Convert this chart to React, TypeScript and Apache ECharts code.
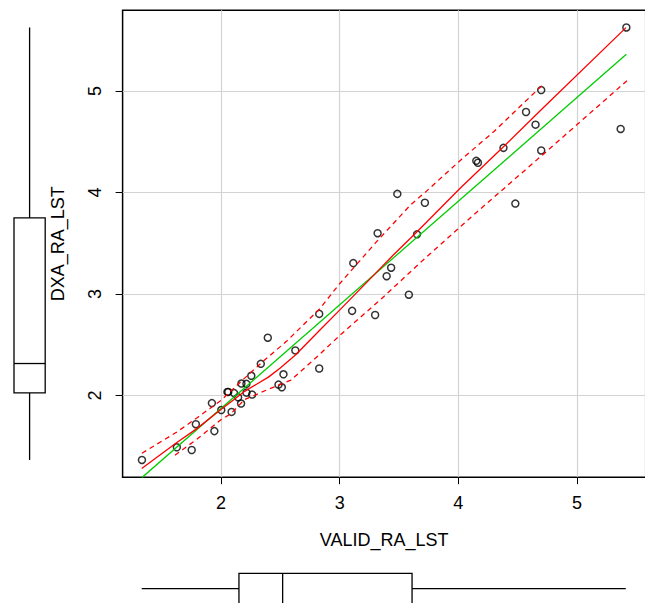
import React, { useEffect, useRef } from "react";
import * as echarts from "echarts";

const X_TICKS = [2, 3, 4, 5];
const Y_TICKS = [2, 3, 4, 5];
const X_LIMITS = [1.172, 5.578];
const Y_LIMITS = [1.194, 5.795];

const VALID_RA_LST = [1.335, 1.629, 1.754, 1.789, 1.924, 1.945, 2.003, 2.055, 2.062, 2.09, 2.111, 2.145, 2.17, 2.173, 2.215, 2.215, 2.256, 2.263, 2.336, 2.395, 2.485, 2.513, 2.527, 2.627, 2.828, 2.828, 3.105, 3.115, 3.299, 3.32, 3.396, 3.434, 3.486, 3.583, 3.652, 3.718, 4.151, 4.165, 4.38, 4.48, 4.57, 4.65, 4.698, 4.698, 5.367, 5.415];
const DXA_RA_LST = [1.364, 1.489, 1.462, 1.716, 1.924, 1.648, 1.856, 2.034, 2.034, 1.837, 2.023, 1.981, 1.92, 2.117, 2.114, 2.027, 2.193, 2.008, 2.311, 2.568, 2.106, 2.08, 2.208, 2.443, 2.803, 2.265, 2.833, 3.303, 2.792, 3.598, 3.174, 3.258, 3.985, 2.992, 3.587, 3.898, 4.311, 4.292, 4.439, 3.89, 4.792, 4.667, 5.008, 4.413, 4.625, 5.625];

const REG_X = [1.335, 5.415];
const REG_Y = [1.19, 5.36];

const SMOOTH_X = [1.333, 1.629, 1.8, 2.0, 2.1, 2.2, 2.3, 2.4, 2.5, 2.63, 2.83, 3.0, 3.15, 3.3, 3.45, 3.65, 4.015, 4.38, 4.7, 5.412];
const SMOOTH_Y = [1.28, 1.535, 1.675, 1.86, 1.95, 2.04, 2.11, 2.18, 2.27, 2.4, 2.64, 2.84, 3.02, 3.2, 3.38, 3.61, 4.04, 4.45, 4.816, 5.623];

const UPPER_X = [1.335, 1.63, 1.8, 2.0, 2.2, 2.35, 2.55, 2.83, 3.0, 3.3, 3.6, 3.72, 4.03, 4.3, 4.72];
const UPPER_Y = [1.43, 1.64, 1.78, 1.95, 2.17, 2.33, 2.53, 2.85, 3.1, 3.5, 3.88, 4.0, 4.33, 4.6, 5.07];

const LOWER_X = [1.613, 1.8, 2.0, 2.085, 2.2, 2.4, 2.59, 2.8, 3.0, 3.35, 3.7, 4.14, 4.7, 5.42];
const LOWER_Y = [1.41, 1.57, 1.76, 1.82, 1.96, 2.06, 2.15, 2.37, 2.59, 2.95, 3.33, 3.79, 4.36, 5.1];

// [min, Q1, median, Q3, max]
const BOX_DXA = [1.364, 2.024, 2.314, 3.748, 5.625];
const BOX_VALID = [1.333, 2.152, 2.52, 3.61, 5.41];

const FONT = "'Liberation Sans', Arial, Helvetica, sans-serif";

const zip = (xs: number[], ys: number[]) => xs.map((x, i) => [x, ys[i]]);

export default function App() {
  const ref = useRef<HTMLDivElement>(null);
  useEffect(() => {
    if (!ref.current) return;
    const chart = echarts.init(ref.current, null, { renderer: "svg" });
    const txt = { fontSize: 18, color: "#000", fontFamily: FONT };
    const option: any = {
      animation: false,
      backgroundColor: "#fff",
      grid: [
        { left: 122.6, top: 10.2, width: 523.1, height: 467, show: true, borderColor: "#000", borderWidth: 1.5, backgroundColor: "transparent", outerBoundsMode: "none" },
        { left: 14, top: 10.2, width: 31.2, height: 467, outerBoundsMode: "none" },
        { left: 122.6, top: 573.3, width: 523.1, height: 30.6, outerBoundsMode: "none" },
      ],
      xAxis: [
        {
          type: "value", gridIndex: 0, min: X_LIMITS[0], max: X_LIMITS[1],
          axisLine: { show: false },
          axisTick: { show: true, customValues: X_TICKS, length: 7, lineStyle: { color: "#000", width: 1 } },
          axisLabel: { customValues: X_TICKS, margin: 17, ...txt },
          splitLine: { show: true, lineStyle: { color: "#d3d3d3", width: 1.2 } },
          name: "VALID_RA_LST", nameLocation: "middle", nameGap: 54, nameTextStyle: txt,
        },
        { type: "value", gridIndex: 1, min: 0, max: 1, show: false },
        { type: "value", gridIndex: 2, min: X_LIMITS[0], max: X_LIMITS[1], show: false },
      ],
      yAxis: [
        {
          type: "value", gridIndex: 0, min: Y_LIMITS[0], max: Y_LIMITS[1],
          axisLine: { show: false },
          axisTick: { show: true, customValues: Y_TICKS, length: 7, lineStyle: { color: "#000", width: 1 } },
          axisLabel: { customValues: Y_TICKS, margin: 19, rotate: 90, ...txt },
          splitLine: { show: true, lineStyle: { color: "#d3d3d3", width: 1.2 } },
          name: "DXA_RA_LST", nameLocation: "middle", nameGap: 56, nameTextStyle: txt,
        },
        { type: "value", gridIndex: 1, min: Y_LIMITS[0], max: Y_LIMITS[1], show: false },
        { type: "value", gridIndex: 2, min: 0, max: 1, show: false },
      ],
      series: [
        {
          type: "scatter", xAxisIndex: 0, yAxisIndex: 0, z: 2,
          data: zip(VALID_RA_LST, DXA_RA_LST),
          symbol: "circle", symbolSize: 7,
          itemStyle: { color: "rgba(0,0,0,0)", borderColor: "#000", borderWidth: 1.5 },
        },
        {
          type: "line", xAxisIndex: 0, yAxisIndex: 0, z: 3, symbol: "none",
          data: zip(REG_X, REG_Y),
          lineStyle: { color: "#00cd00", width: 1.3 },
        },
        {
          type: "line", xAxisIndex: 0, yAxisIndex: 0, z: 4, symbol: "none",
          data: zip(SMOOTH_X, SMOOTH_Y),
          lineStyle: { color: "#ff0000", width: 1.3 },
        },
        {
          type: "line", xAxisIndex: 0, yAxisIndex: 0, z: 4, symbol: "none",
          data: zip(UPPER_X, UPPER_Y),
          lineStyle: { color: "#ff0000", width: 1.3, type: [5, 4] },
        },
        {
          type: "line", xAxisIndex: 0, yAxisIndex: 0, z: 4, symbol: "none",
          data: zip(LOWER_X, LOWER_Y),
          lineStyle: { color: "#ff0000", width: 1.3, type: [5, 4] },
        },
        {
          type: "custom", xAxisIndex: 1, yAxisIndex: 1, clip: false,
          data: [BOX_DXA],
          renderItem: (params: any, api: any) => {
            const v = [0, 1, 2, 3, 4].map((i) => api.value(i));
            const cs = params.coordSys;
            const yOf = (val: number) => api.coord([0, val])[1];
            const cx = cs.x + cs.width / 2;
            const st = { stroke: "#000", lineWidth: 1.3, fill: "none" };
            return {
              type: "group",
              children: [
                { type: "rect", shape: { x: cs.x, y: yOf(v[3]), width: cs.width, height: yOf(v[1]) - yOf(v[3]) }, style: { ...st, fill: "#fff" } },
                { type: "line", shape: { x1: cs.x, y1: yOf(v[2]), x2: cs.x + cs.width, y2: yOf(v[2]) }, style: st },
                { type: "line", shape: { x1: cx, y1: yOf(v[3]), x2: cx, y2: yOf(v[4]) }, style: st },
                { type: "line", shape: { x1: cx, y1: yOf(v[1]), x2: cx, y2: yOf(v[0]) }, style: st },
              ],
            };
          },
        },
        {
          type: "custom", xAxisIndex: 2, yAxisIndex: 2, clip: false,
          data: [BOX_VALID],
          renderItem: (params: any, api: any) => {
            const v = [0, 1, 2, 3, 4].map((i) => api.value(i));
            const cs = params.coordSys;
            const xOf = (val: number) => api.coord([val, 0])[0];
            const cy = cs.y + cs.height / 2;
            const st = { stroke: "#000", lineWidth: 1.3, fill: "none" };
            return {
              type: "group",
              children: [
                { type: "rect", shape: { x: xOf(v[1]), y: cs.y, width: xOf(v[3]) - xOf(v[1]), height: cs.height }, style: { ...st, fill: "#fff" } },
                { type: "line", shape: { x1: xOf(v[2]), y1: cs.y, x2: xOf(v[2]), y2: cs.y + cs.height }, style: st },
                { type: "line", shape: { x1: xOf(v[3]), y1: cy, x2: xOf(v[4]), y2: cy }, style: st },
                { type: "line", shape: { x1: xOf(v[1]), y1: cy, x2: xOf(v[0]), y2: cy }, style: st },
              ],
            };
          },
        },
      ],
    };
    chart.setOption(option);
    return () => chart.dispose();
  }, []);
  return (
    <div
      ref={ref}
      style={{ position: "absolute", left: 0, top: 0, width: 645, height: 603, background: "#fff" }}
    />
  );
}
